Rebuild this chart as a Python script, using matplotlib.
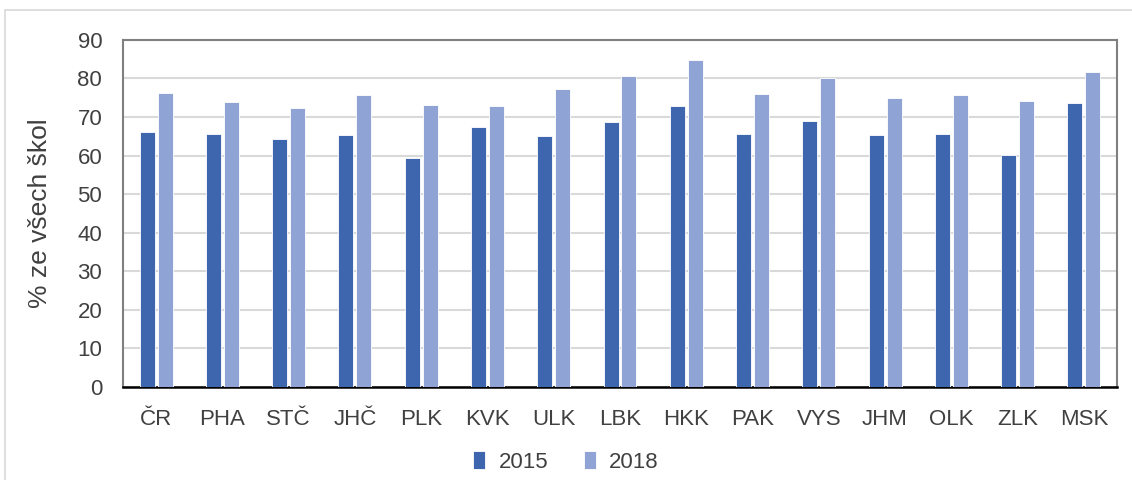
import matplotlib.pyplot as plt
import numpy as np
from matplotlib.patches import Rectangle

# kraje a podil skol (%)
regions = ['ČR', 'PHA', 'STČ', 'JHČ', 'PLK', 'KVK', 'ULK', 'LBK',
           'HKK', 'PAK', 'VYS', 'JHM', 'OLK', 'ZLK', 'MSK']
val_2015 = [66.2, 65.5, 64.2, 65.4, 59.3, 67.5, 65.1, 68.7,
            72.9, 65.7, 69.0, 65.3, 65.7, 60.2, 73.6]
val_2018 = [76.2, 74.0, 72.3, 75.8, 73.0, 72.8, 77.3, 80.5,
            84.7, 75.9, 80.0, 74.8, 75.6, 74.2, 81.7]
years = ['2015', '2018']
y_ticks = list(range(0, 100, 10))

plt.rcParams['font.family'] = ['Liberation Sans', 'DejaVu Sans']

fig = plt.figure(figsize=(11.32, 4.8), dpi=100)
ax = fig.add_axes([0.1087, 0.194, 0.878, 0.723])

# ramecek kolem grafu
fig.patches.append(Rectangle((0.004, -0.01), 1.0, 0.99, transform=fig.transFigure,
                             fill=False, edgecolor='#d9d9d9', linewidth=1.2))

x = np.arange(len(regions))
w = 0.226
gap = 0.045
ax.bar(x - (w + gap) / 2, val_2015, w, color='#3e66ae', edgecolor='white',
       linewidth=0.6, label=years[0], zorder=3)
ax.bar(x + (w + gap) / 2, val_2018, w, color='#8fa4d5', edgecolor='white',
       linewidth=0.6, label=years[1], zorder=3)

ax.set_xlim(-0.5, len(regions) - 0.5)
ax.set_ylim(0, 90)
ax.set_yticks(y_ticks)
ax.set_xticks(x)
ax.set_xticklabels(regions)
ax.tick_params(axis='both', length=0, labelsize=16, colors='#404040')
ax.tick_params(axis='y', pad=15)
ax.tick_params(axis='x', pad=16)
ax.yaxis.grid(True, color='#d9d9d9', linewidth=1.5, zorder=0)
ax.set_axisbelow(True)

for s in ['left', 'top', 'right']:
    ax.spines[s].set_color('#808080')
    ax.spines[s].set_linewidth(1.5)
ax.spines['bottom'].set_color('black')
ax.spines['bottom'].set_linewidth(1.8)

ax.set_ylabel('% ze všech škol', fontsize=19, color='#404040', labelpad=18)

fig.legend(loc='center', bbox_to_anchor=(0.5, 0.038), ncol=2, frameon=False,
           fontsize=16, handlelength=0.55, handleheight=0.9, handletextpad=0.6,
           columnspacing=1.6, labelcolor='#404040')

fig.savefig('out.png', dpi=100)
